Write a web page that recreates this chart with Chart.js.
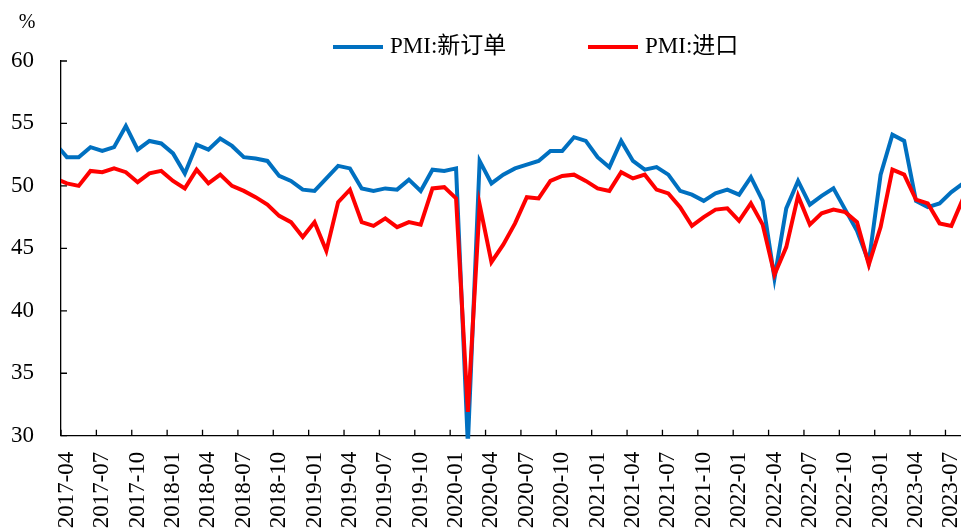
<!DOCTYPE html>
<html>
<head>
<meta charset="utf-8">
<script src="https://cdn.jsdelivr.net/npm/chart.js@4.4.0/dist/chart.umd.min.js"></script>
<style>
  body { margin: 0; background: #fff; }
  #wrap { width: 961px; height: 530px; overflow: hidden; }
</style>
</head>
<body>
<div id="wrap"><canvas id="pmi" width="1007" height="530"></canvas></div>
<script>
// 月份（2017-03 只用来画出左端被坐标轴截断的那一小段）
const months = [
  '2017-03', '2017-04', '2017-05', '2017-06', '2017-07', '2017-08', '2017-09', '2017-10', '2017-11', '2017-12',
  '2018-01', '2018-02', '2018-03', '2018-04', '2018-05', '2018-06', '2018-07', '2018-08', '2018-09', '2018-10', '2018-11', '2018-12',
  '2019-01', '2019-02', '2019-03', '2019-04', '2019-05', '2019-06', '2019-07', '2019-08', '2019-09', '2019-10', '2019-11', '2019-12',
  '2020-01', '2020-02', '2020-03', '2020-04', '2020-05', '2020-06', '2020-07', '2020-08', '2020-09', '2020-10', '2020-11', '2020-12',
  '2021-01', '2021-02', '2021-03', '2021-04', '2021-05', '2021-06', '2021-07', '2021-08', '2021-09', '2021-10', '2021-11', '2021-12',
  '2022-01', '2022-02', '2022-03', '2022-04', '2022-05', '2022-06', '2022-07', '2022-08', '2022-09', '2022-10', '2022-11', '2022-12',
  '2023-01', '2023-02', '2023-03', '2023-04', '2023-05', '2023-06', '2023-07', '2023-08'
];

// PMI:新订单
const pmiNewOrders = [
  53.4, 52.3, 52.3, 53.1, 52.8, 53.1, 54.8, 52.9, 53.6, 53.4,
  52.6, 51.0, 53.3, 52.9, 53.8, 53.2, 52.3, 52.2, 52.0, 50.8, 50.4, 49.7,
  49.6, 50.6, 51.6, 51.4, 49.8, 49.6, 49.8, 49.7, 50.5, 49.6, 51.3, 51.2,
  51.4, 29.3, 52.0, 50.2, 50.9, 51.4, 51.7, 52.0, 52.8, 52.8, 53.9, 53.6,
  52.3, 51.5, 53.6, 52.0, 51.3, 51.5, 50.9, 49.6, 49.3, 48.8, 49.4, 49.7,
  49.3, 50.7, 48.8, 42.6, 48.2, 50.4, 48.5, 49.2, 49.8, 48.1, 46.4, 43.9,
  50.9, 54.1, 53.6, 48.8, 48.3, 48.6, 49.5, 50.2
];

// PMI:进口
const pmiImports = [
  50.6, 50.2, 50.0, 51.2, 51.1, 51.4, 51.1, 50.3, 51.0, 51.2,
  50.4, 49.8, 51.3, 50.2, 50.9, 50.0, 49.6, 49.1, 48.5, 47.6, 47.1, 45.9,
  47.1, 44.8, 48.7, 49.7, 47.1, 46.8, 47.4, 46.7, 47.1, 46.9, 49.8, 49.9,
  49.0, 31.9, 48.5, 43.9, 45.3, 47.0, 49.1, 49.0, 50.4, 50.8, 50.9, 50.4,
  49.8, 49.6, 51.1, 50.6, 50.9, 49.7, 49.4, 48.3, 46.8, 47.5, 48.1, 48.2,
  47.2, 48.6, 46.9, 42.9, 45.1, 49.2, 46.9, 47.8, 48.1, 47.9, 47.1, 43.7,
  46.7, 51.3, 50.9, 48.9, 48.6, 47.0, 46.8, 49.0
];

const seriesNames = ['PMI:新订单', 'PMI:进口'];
const labelMonths = ['01', '04', '07', '10'];   // 每季度标一次
const firstMonth = '2017-04';

const serif = "'Liberation Serif', 'Times New Roman', 'Noto Sans CJK SC', serif";

function isLabelled(m) {
  return labelMonths.includes(m.slice(5));
}

// 刻度线朝里画
const innerTicks = {
  id: 'innerTicks',
  beforeDatasetsDraw(chart) {
    const { ctx, chartArea, scales: { x, y } } = chart;
    ctx.save();
    ctx.strokeStyle = '#000';
    ctx.lineWidth = 1.3;
    ctx.beginPath();
    y.ticks.forEach(t => {
      const py = y.getPixelForValue(t.value);
      ctx.moveTo(chartArea.left, py);
      ctx.lineTo(chartArea.left + 6, py);
    });
    for (let i = Math.max(x.min, 1); i <= x.max; i++) {
      if (!isLabelled(months[i])) continue;
      const px = (x.getPixelForValue(i) + x.getPixelForValue(i - 1)) / 2;
      ctx.moveTo(px, chartArea.bottom);
      ctx.lineTo(px, chartArea.bottom - 6);
    }
    ctx.stroke();
    ctx.restore();
  }
};

// 顶部图例 + 单位
const topLegend = {
  id: 'topLegend',
  afterDraw(chart, args, opts) {
    const ctx = chart.ctx;
    ctx.save();
    ctx.textBaseline = 'middle';
    ctx.fillStyle = '#000';
    ctx.font = opts.font;
    chart.data.datasets.forEach((ds, i) => {
      const x0 = opts.x[i];
      ctx.strokeStyle = ds.borderColor;
      ctx.lineWidth = 4;
      ctx.beginPath();
      ctx.moveTo(x0, opts.y);
      ctx.lineTo(x0 + opts.lineLength, opts.y);
      ctx.stroke();
      ctx.fillText(ds.label, x0 + opts.lineLength + 7, opts.y);
    });
    ctx.font = opts.unitFont;
    ctx.textAlign = 'center';
    ctx.fillText('%', opts.unitX, opts.unitY);
    ctx.restore();
  }
};

const lineStyle = {
  borderWidth: 4,
  pointRadius: 0,
  tension: 0,
  fill: false,
  clip: { left: 0, top: 2, right: 2, bottom: 3 }
};

new Chart(document.getElementById('pmi'), {
  type: 'line',
  data: {
    labels: months,
    datasets: [
      { ...lineStyle, label: seriesNames[0], data: pmiNewOrders, borderColor: '#0070C0', backgroundColor: '#0070C0', order: 1 },
      { ...lineStyle, label: seriesNames[1], data: pmiImports, borderColor: '#FF0000', backgroundColor: '#FF0000', order: 0 }
    ]
  },
  options: {
    responsive: false,
    animation: false,
    layout: { padding: { top: 61, right: 37, bottom: 0, left: 0 } },
    plugins: {
      legend: { display: false },
      tooltip: { enabled: false },
      topLegend: {
        x: [333, 588], y: 47, lineLength: 50,
        font: "23px " + serif,
        unitFont: "20px " + serif, unitX: 27, unitY: 23
      }
    },
    scales: {
      x: {
        type: 'category',
        min: firstMonth,
        offset: true,
        grid: { display: false, drawTicks: false, offset: true },
        border: { display: true, color: '#000', width: 1.3 },
        ticks: {
          autoSkip: false,
          minRotation: 90,
          maxRotation: 90,
          padding: 16,
          color: '#000',
          font: { family: serif, size: 23 },
          callback(value) {
            const m = this.getLabelForValue(value);
            return isLabelled(m) ? m : '';
          }
        },
        afterFit(s) { s.height = 94.3; }
      },
      y: {
        min: 30,
        max: 60,
        grid: { display: false, drawTicks: false },
        border: { display: true, color: '#000', width: 1.3 },
        ticks: {
          stepSize: 5,
          padding: 27,
          color: '#000',
          font: { family: serif, size: 23 }
        },
        afterFit(s) { s.width = 61; }
      }
    }
  },
  plugins: [innerTicks, topLegend]
});
</script>
</body>
</html>
